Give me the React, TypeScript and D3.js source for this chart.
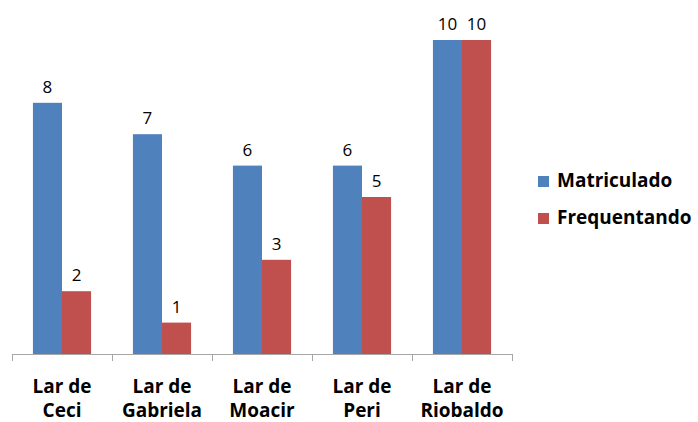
import React from "react";
import * as d3 from "d3";

const categories = [
  ["Lar de", "Ceci"],
  ["Lar de", "Gabriela"],
  ["Lar de", "Moacir"],
  ["Lar de", "Peri"],
  ["Lar de", "Riobaldo"],
];
const seriesNames = ["Matriculado", "Frequentando"];
const matriculado = [8, 7, 6, 6, 10];
const frequentando = [2, 1, 3, 5, 10];
const colors = ["#4F81BD", "#C0504D"];

const W = 698;
const H = 422;
const font = "'Open Sans', 'Liberation Sans', sans-serif";

export default function App() {
  const x0 = d3
    .scaleBand<number>()
    .domain(categories.map((_, i) => i))
    .range([12, 512])
    .paddingInner(0)
    .paddingOuter(0);
  const x1 = d3
    .scaleBand<number>()
    .domain([0, 1])
    .range([0, x0.bandwidth()])
    .paddingInner(0)
    .paddingOuter(0.72);
  const y = d3.scaleLinear().domain([0, 10]).range([354, 40]);
  const series = [matriculado, frequentando];
  const ticks = d3.range(categories.length + 1).map((i) => 12 + i * x0.step());

  return (
    <svg width={W} height={H} style={{ position: "absolute", left: 0, top: 0 }}>
      <rect width={W} height={H} fill="#fff" />
      {series.map((vals, s) =>
        vals.map((v, i) => {
          const bx = (x0(i) as number) + (x1(s) as number);
          const bw = x1.bandwidth();
          return (
            <g key={`${s}-${i}`}>
              <rect x={bx} y={y(v)} width={bw} height={y(0) - y(v)} fill={colors[s]} />
              <text
                x={bx + bw / 2}
                y={y(v) - 10}
                textAnchor="middle"
                fontFamily={font}
                fontSize={17}
                fill="#000"
              >
                {v}
              </text>
            </g>
          );
        })
      )}
      <line x1={12} x2={512} y1={354.5} y2={354.5} stroke="#A6A6A6" strokeWidth={1} />
      {ticks.map((t, i) => (
        <line key={i} x1={t + 0.5} x2={t + 0.5} y1={354} y2={361} stroke="#A6A6A6" strokeWidth={1} />
      ))}
      {categories.map((c, i) => (
        <text
          key={i}
          x={(x0(i) as number) + x0.bandwidth() / 2}
          textAnchor="middle"
          fontFamily={font}
          fontWeight="bold"
          fontSize={19}
          fill="#000"
        >
          <tspan x={(x0(i) as number) + x0.bandwidth() / 2} y={393}>
            {c[0]}
          </tspan>
          <tspan x={(x0(i) as number) + x0.bandwidth() / 2} y={417}>
            {c[1]}
          </tspan>
        </text>
      ))}
      {seriesNames.map((n, s) => (
        <g key={n} transform={`translate(538, ${176 + s * 37})`}>
          <rect x={0} y={0} width={11} height={11} fill={colors[s]} />
          <text x={19} y={11} fontFamily={font} fontWeight="bold" fontSize={19} fill="#000">
            {n}
          </text>
        </g>
      ))}
    </svg>
  );
}
